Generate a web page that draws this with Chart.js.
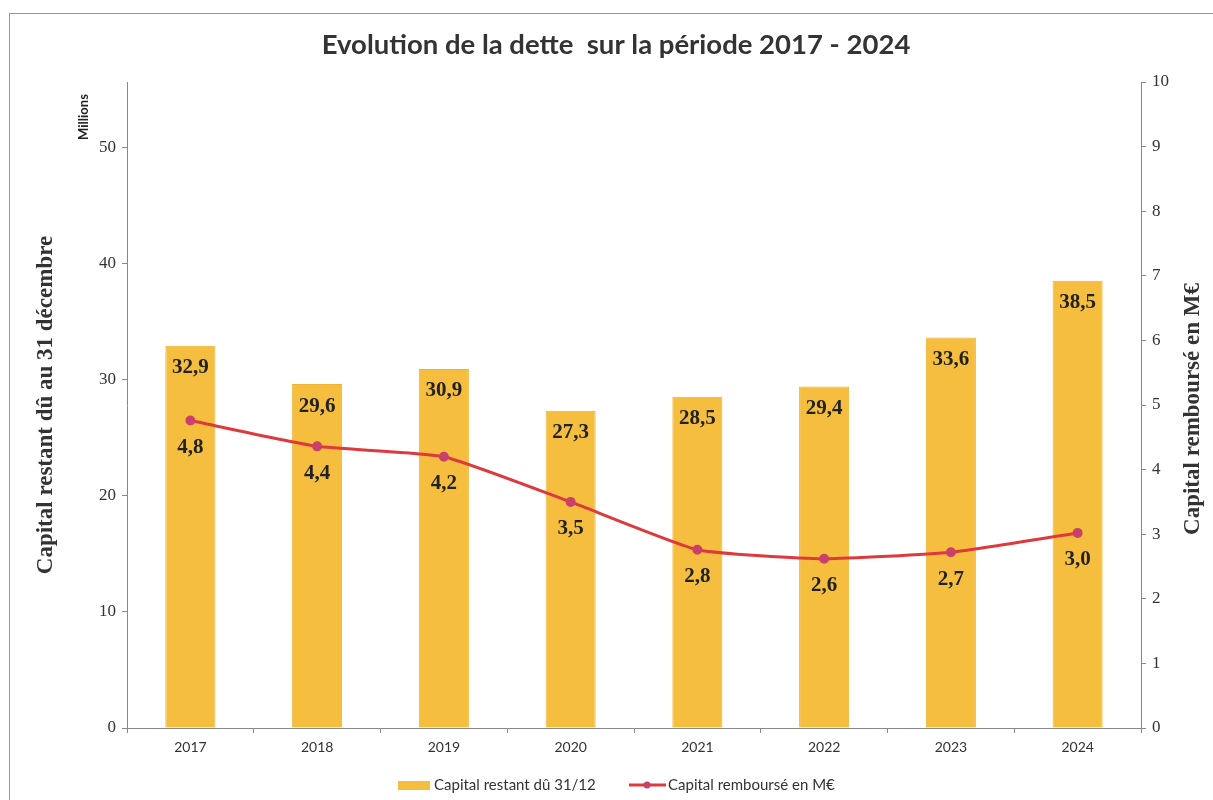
<!DOCTYPE html>
<html>
<head>
<meta charset="utf-8">
<script src="https://cdn.jsdelivr.net/npm/chart.js@4/dist/chart.umd.min.js"></script>
<style>
html,body{margin:0;padding:0;background:#fff;}
#wrap{position:absolute;left:0;top:0;width:1213px;height:800px;}
#frame{position:absolute;left:9px;top:13px;width:1204px;height:787px;border-left:1px solid #999;border-top:1px solid #999;box-sizing:border-box;pointer-events:none;}
</style>
</head>
<body>
<div id="wrap"><canvas id="c" width="1213" height="800"></canvas></div>
<div id="frame"></div>
<script>
const categories = ['2017','2018','2019','2020','2021','2022','2023','2024'];
const capitalRestant = [32.9, 29.6, 30.9, 27.3, 28.5, 29.4, 33.6, 38.5];
const capitalRembourse = [4.76, 4.36, 4.2, 3.5, 2.76, 2.62, 2.72, 3.02];
const leftTicks = [0, 10, 20, 30, 40, 50];
const rightTicks = [0, 1, 2, 3, 4, 5, 6, 7, 8, 9, 10];
const titleText = 'Evolution de la dette  sur la période 2017 - 2024';
const leftTitle = 'Capital restant dû au 31 décembre';
const rightTitle = 'Capital remboursé en M€';
const barLabel = 'Capital restant dû 31/12';
const lineLabel = 'Capital remboursé en M€';

const BAR = '#F6BE3F';
const LINE = '#DE3A3E';
const POINT = '#C9416A';
const SERIF = '"Liberation Serif", "DejaVu Serif", serif';
const SANS = 'Lato, "Open Sans", sans-serif';

const fmt = v => v.toFixed(1).replace('.', ',');

const decor = {
  id: 'decor',
  afterDatasetsDraw(chart) {
    const ctx = chart.ctx;
    ctx.save();
    const mb = chart.getDatasetMeta(0);
    ctx.font = 'bold 21px ' + SERIF;
    ctx.fillStyle = '#222';
    ctx.textAlign = 'center';
    ctx.textBaseline = 'middle';
    mb.data.forEach((el, i) => {
      ctx.fillText(fmt(capitalRestant[i]), el.x, el.y + 22);
    });
    const ml = chart.getDatasetMeta(1);
    ml.data.forEach((el, i) => {
      ctx.fillText(fmt(capitalRembourse[i]), el.x, el.y + 27);
    });
    ctx.restore();
  },
  afterDraw(chart) {
    const ctx = chart.ctx;
    ctx.save();
    ctx.textAlign = 'center';
    ctx.textBaseline = 'middle';
    ctx.font = 'bold 27.5px ' + SANS;
    ctx.fillStyle = '#333';
    ctx.fillText(titleText, 616, 45);
    ctx.save();
    ctx.translate(84, 117);
    ctx.rotate(-Math.PI / 2);
    ctx.font = 'bold 13px ' + SANS;
    ctx.fillStyle = '#222';
    ctx.fillText('Millions', 0, 0);
    ctx.restore();
    const ca = chart.chartArea;
    const midY = (ca.top + ca.bottom) / 2;
    ctx.font = 'bold 23px ' + SERIF;
    ctx.fillStyle = '#333';
    ctx.save();
    ctx.translate(46, midY);
    ctx.rotate(-Math.PI / 2);
    ctx.fillText(leftTitle, 0, 0);
    ctx.restore();
    ctx.save();
    ctx.translate(1193, midY + 4);
    ctx.rotate(-Math.PI / 2);
    ctx.fillText(rightTitle, 0, 0);
    ctx.restore();
    const ly = 785;
    ctx.fillStyle = BAR;
    ctx.fillRect(398, ly - 4, 32, 9);
    ctx.font = '15px ' + SANS;
    ctx.fillStyle = '#333';
    ctx.textAlign = 'left';
    ctx.fillText(barLabel, 434, ly);
    ctx.strokeStyle = LINE;
    ctx.lineWidth = 3;
    ctx.beginPath();
    ctx.moveTo(629, ly);
    ctx.lineTo(666, ly);
    ctx.stroke();
    ctx.fillStyle = POINT;
    ctx.beginPath();
    ctx.arc(647, ly, 3.5, 0, Math.PI * 2);
    ctx.fill();
    ctx.fillStyle = '#333';
    ctx.fillText(lineLabel, 668, ly);
    ctx.restore();
  }
};

new Chart(document.getElementById('c'), {
  type: 'bar',
  data: {
    labels: categories,
    datasets: [
      {
        type: 'bar',
        label: barLabel,
        data: capitalRestant,
        backgroundColor: BAR,
        borderColor: '#EDB232',
        borderWidth: 1,
        yAxisID: 'y',
        barPercentage: 0.79,
        categoryPercentage: 0.5,
        order: 2
      },
      {
        type: 'line',
        label: lineLabel,
        data: capitalRembourse,
        borderColor: LINE,
        borderWidth: 3,
        pointBackgroundColor: POINT,
        pointBorderColor: POINT,
        pointRadius: 3.5,
        tension: 0.15,
        yAxisID: 'y1',
        order: 1
      }
    ]
  },
  options: {
    responsive: false,
    animation: false,
    layout: { padding: { left: 0, right: 0, top: 82, bottom: 32 } },
    plugins: { legend: { display: false }, title: { display: false }, tooltip: { enabled: false } },
    scales: {
      x: {
        grid: { offset: true, drawOnChartArea: false, drawTicks: true, tickLength: 5, color: '#888' },
        border: { display: true, color: '#888', width: 1 },
        ticks: { font: { family: SANS, size: 14 }, color: '#333', padding: 6 },
        afterFit(s) { s.height = 40; }
      },
      y: {
        position: 'left',
        min: 0, max: 55.6,
        afterBuildTicks(s) { s.ticks = leftTicks.map(v => ({ value: v })); },
        grid: { drawOnChartArea: false, drawTicks: true, tickLength: 5, color: '#888' },
        border: { display: true, color: '#888', width: 1 },
        ticks: { font: { family: SERIF, size: 17 }, color: '#333', padding: 6 },
        afterFit(s) { s.width = 127; }
      },
      y1: {
        position: 'right',
        min: 0, max: 10,
        afterBuildTicks(s) { s.ticks = rightTicks.map(v => ({ value: v })); },
        grid: { drawOnChartArea: false, drawTicks: true, tickLength: 5, color: '#888' },
        border: { display: true, color: '#888', width: 1 },
        ticks: { font: { family: SERIF, size: 17 }, color: '#333', padding: 6 },
        afterFit(s) { s.width = 72; }
      }
    }
  },
  plugins: [decor]
});
</script>
</body>
</html>
